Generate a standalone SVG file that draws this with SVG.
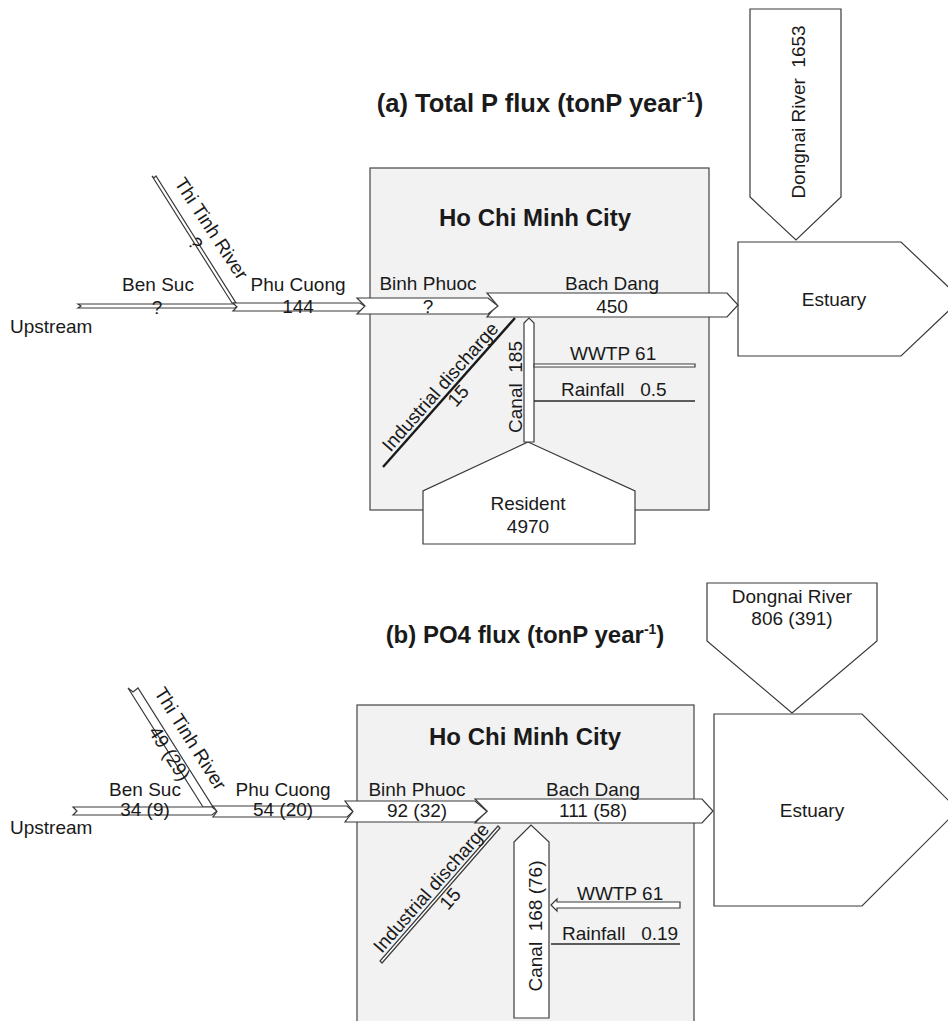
<svg xmlns="http://www.w3.org/2000/svg" width="948" height="1021" viewBox="0 0 948 1021">
<style>
text{font-family:"Liberation Sans",Arial,sans-serif;font-size:19px;fill:#1a1a1a}
.t{font-weight:bold;font-size:24px}
.m{text-anchor:middle}
.box{fill:#f2f2f2;stroke:#444;stroke-width:1.2}
.s{fill:#fff;stroke:#3a3a3a;stroke-width:1.2;stroke-linejoin:miter}
.ln{stroke:#2a2a2a;stroke-width:1.4;fill:none}
.thk{stroke:#1a1a1a;stroke-width:2.4;fill:none}
</style>
<rect width="948" height="1021" fill="#fff"/>

<!-- ===== Part (a) ===== -->
<g id="title-a"><text class="t m" x="540" y="112" style="font-size:25.5px">(a) Total P flux (tonP year<tspan font-size="15" dy="-10">-1</tspan><tspan dy="10">)</tspan></text></g>
<g id="hcmc-a"><rect class="box" x="370" y="168" width="339" height="342"/><text class="t m" x="535" y="226">Ho Chi Minh City</text></g>
<g id="dongnai-a"><polygon class="s" points="750,9 841,9 841,197 796,240 750,197"/><text class="m" xml:space="preserve" transform="translate(805,112) rotate(-90)">Dongnai River  1653</text></g>
<g id="estuary-a"><polygon class="s" points="738,242 901,242 961,299 901,356 738,356"/><text class="m" x="834" y="306">Estuary</text></g>
<g id="resident-a"><polygon class="s" points="528,442 635,491 635,544 423,544 423,491"/><text class="m" x="528" y="510">Resident</text><text class="m" x="528" y="533">4970</text></g>
<g id="upstream-a"><text x="10" y="333">Upstream</text></g>

<g id="connectors-a">
<polygon class="s" points="152,176 154,178 156,176 236,303 232,303"/>
<polygon class="s" points="78,304 235,304 238,306 235,308 78,308 81,306"/>
<polygon class="s" points="233,303 360,303 366,307 360,311 233,311 237,307"/>
<polygon class="s" points="487,293 727,293 738,305 727,317 487,317 497,305"/>
<polygon class="s" points="357,298 488,298 498,306 488,314 357,314 365,306"/>
<line class="thk" x1="515" y1="318" x2="383" y2="467"/>
<polygon class="s" points="524,323 529,318 534,323 534,442 524,442"/>
<polygon class="s" points="534,364 695,364 695,367 534,367"/>
<line class="ln" x1="534" y1="401" x2="695" y2="401"/>
</g>

<g id="labels-a">
<text class="m" x="158" y="291">Ben Suc</text>
<text class="m" x="157" y="314">?</text>
<text class="m" x="298" y="291">Phu Cuong</text>
<text class="m" x="298" y="313">144</text>
<text class="m" x="428" y="290">Binh Phuoc</text>
<text class="m" x="428" y="313">?</text>
<text class="m" x="612" y="290">Bach Dang</text>
<text class="m" x="612" y="313">450</text>
<text class="m" transform="translate(206,232) rotate(56.8)">Thi Tinh River</text>
<text class="m" transform="translate(190,247) rotate(56.8)">?</text>
<text class="m" transform="translate(445,391) rotate(-48.5)">Industrial discharge</text>
<text class="m" transform="translate(463,400) rotate(-48.5)">15</text>
<text class="m" xml:space="preserve" transform="translate(522,387) rotate(-90)">Canal  185</text>
<text x="570" y="360">WWTP 61</text>
<text x="561" y="396" xml:space="preserve">Rainfall   0.5</text>
</g>

<!-- ===== Part (b) ===== -->
<g id="title-b"><text class="t m" x="525" y="643">(b) PO4 flux (tonP year<tspan font-size="14" dy="-9">-1</tspan><tspan dy="9">)</tspan></text></g>
<g id="hcmc-b"><rect class="box" x="357" y="705" width="337" height="330"/><text class="t m" x="525" y="745">Ho Chi Minh City</text></g>
<g id="dongnai-b"><polygon class="s" points="707,583 877,583 877,641 792,713 707,641"/><text class="m" x="792" y="603">Dongnai River</text><text class="m" x="792" y="625">806 (391)</text></g>
<g id="estuary-b"><polygon class="s" points="714,714 862,714 958,810 862,906 714,906"/><text class="m" x="812" y="817">Estuary</text></g>
<g id="upstream-b"><text x="10" y="834">Upstream</text></g>

<g id="connectors-b">
<polygon class="s" points="128,688 133,692 138,688 213,807 203,807"/>
<polygon class="s" points="73,807 212,807 217,811 212,815 73,815 77,811"/>
<polygon class="s" points="213,806 347,806 353,811.5 347,817 213,817 217,811.5"/>
<polygon class="s" points="475,799 702,799 713,811 702,823 475,823 487,811"/>
<polygon class="s" points="345,801 475,801 487,811.5 475,822 345,822 353,811.5"/>
<polygon class="s" points="500,828 382,963 380,961 498,826"/>
<polygon class="s" points="514,842 531,825 549,842 549,1018 514,1018"/>
<polygon class="s" points="680,902 557,902 557,899 551,905 557,911 557,908 680,908"/>
<line class="ln" x1="551" y1="944" x2="680" y2="944"/>
</g>

<g id="labels-b">
<text class="m" x="145" y="796">Ben Suc</text>
<text class="m" x="145" y="816">34 (9)</text>
<text class="m" x="283" y="796">Phu Cuong</text>
<text class="m" x="283" y="816">54 (20)</text>
<text class="m" x="417" y="796">Binh Phuoc</text>
<text class="m" x="417" y="817">92 (32)</text>
<text class="m" x="593" y="796">Bach Dang</text>
<text class="m" x="593" y="817">111 (58)</text>
<text class="m" transform="translate(185,742) rotate(57.8)">Thi Tinh River</text>
<text class="m" transform="translate(164,757) rotate(57.8)">49 (29)</text>
<text class="m" transform="translate(436,892) rotate(-48.8)">Industrial discharge</text>
<text class="m" transform="translate(455,903) rotate(-48.8)">15</text>
<text class="m" xml:space="preserve" transform="translate(542,926) rotate(-90)">Canal  168 (76)</text>
<text x="577" y="900">WWTP 61</text>
<text x="562" y="940" xml:space="preserve">Rainfall   0.19</text>
</g>
</svg>
